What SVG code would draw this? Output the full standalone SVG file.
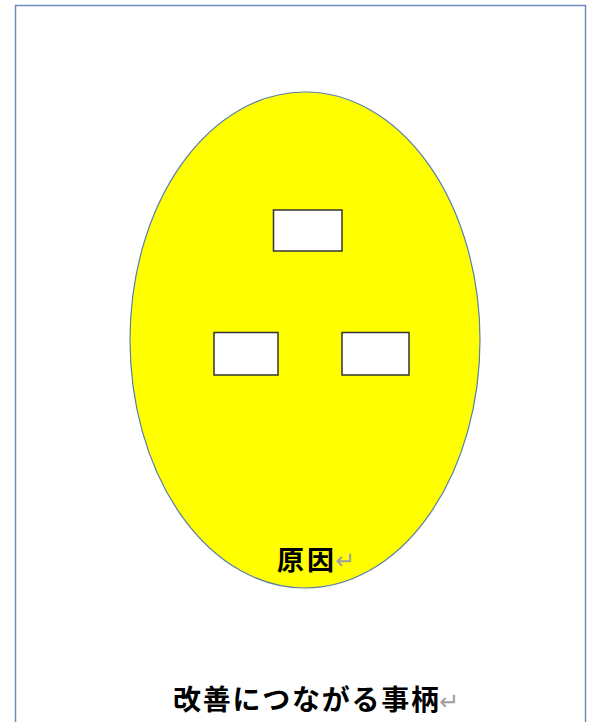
<svg xmlns="http://www.w3.org/2000/svg" width="593" height="722" viewBox="0 0 593 722">
<style>
.box{fill:#ffffff;stroke:#333333;stroke-width:1.5}
.lbl{font-family:"Noto Sans CJK JP","Noto Sans CJK SC",sans-serif;font-weight:bold;fill:#000000}
.ret{font-family:"DejaVu Sans",sans-serif;fill:#a0a0a0}
</style>
<rect x="0" y="0" width="593" height="722" fill="#ffffff"/>
<path d="M15.5,722 V5.5 H585.5 V722" fill="none" stroke="#6c8ebf" stroke-width="1.5"/>
<g id="cause">
<ellipse cx="305" cy="340" rx="175" ry="248" fill="#ffff00" stroke="#5a7fa8" stroke-width="1.2"/>
<text class="lbl" x="277" y="570" font-size="27" textLength="57" lengthAdjust="spacing">原因</text>
<text class="ret" x="335" y="569" font-size="24">↵</text>
</g>
<g id="box1"><rect class="box" x="273.5" y="210" width="68.5" height="41"/></g>
<g id="box2"><rect class="box" x="214" y="332.5" width="64" height="42.5"/></g>
<g id="box3"><rect class="box" x="342" y="332.5" width="67" height="42.5"/></g>
<g id="connectors"></g>
<g id="caption">
<text class="lbl" x="173" y="710" font-size="28" textLength="266" lengthAdjust="spacing">改善につながる事柄</text>
<text class="ret" x="439" y="710" font-size="24">↵</text>
</g>
</svg>
